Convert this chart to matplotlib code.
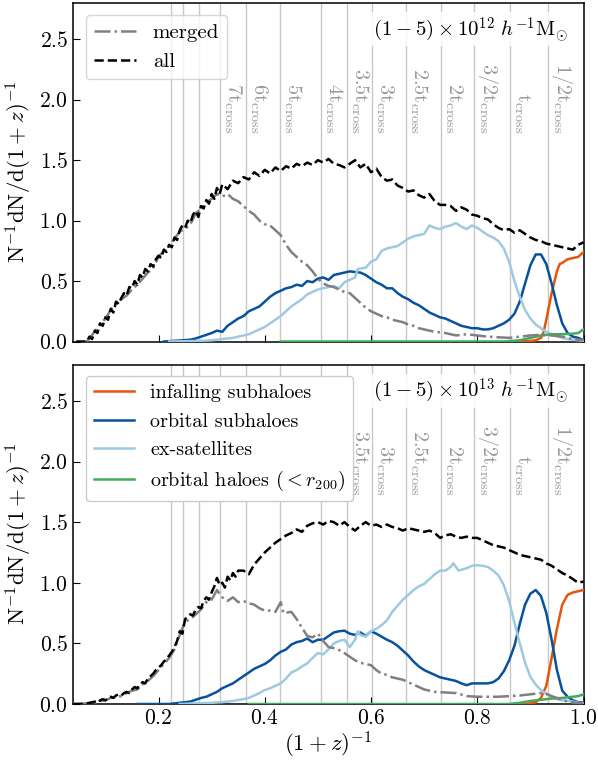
import matplotlib
matplotlib.use("Agg")
import matplotlib.pyplot as plt

plt.rcParams['font.family'] = 'serif'
plt.rcParams['font.serif'] = ['cmr10', 'DejaVu Serif']
plt.rcParams['mathtext.fontset'] = 'cm'
plt.rcParams['axes.formatter.use_mathtext'] = True
plt.rcParams['axes.unicode_minus'] = False

# ---------------- data: top panel (1-5)e12 ----------------
top_all_x = [0.045,0.06,0.065,0.07,0.075,0.08,0.085,0.09,0.095,0.10,0.105,0.11,0.115,0.12,0.125,0.13,0.135,0.14,0.145,0.15,
             0.155,0.16,0.165,0.17,0.175,0.18,0.185,0.19,0.195,0.2,0.205,0.21,0.215,0.22,0.225,0.23,0.235,0.24,0.245,0.25,
             0.255,0.26,0.265,0.27,0.275,0.28,0.285,0.29,0.295,0.30,0.305,0.31,0.315,0.32,0.33,0.34,0.35,0.36,0.37,0.38,
             0.39,0.40,0.41,0.42,0.43,0.44,0.45,0.46,0.47,0.48,0.49,0.50,0.51,0.52,0.53,0.54,0.55,0.56,0.57,0.58,
             0.59,0.60,0.61,0.62,0.63,0.64,0.65,0.66,0.67,0.68,0.69,0.70,0.71,0.72,0.73,0.74,0.75,0.76,0.77,0.78,
             0.79,0.80,0.81,0.82,0.83,0.84,0.85,0.86,0.87,0.88,0.89,0.90,0.91,0.92,0.93,0.94,0.95,0.96,0.97,0.98,0.99,1.0]
top_all_y = [0.0,0.0,0.0,0.04,0.02,0.09,0.07,0.15,0.13,0.20,0.18,0.27,0.24,0.33,0.31,0.36,0.40,0.38,0.45,0.44,
             0.50,0.47,0.55,0.53,0.60,0.58,0.64,0.62,0.68,0.71,0.69,0.76,0.74,0.80,0.78,0.86,0.84,0.92,0.96,0.94,
             1.00,0.98,1.05,1.08,1.03,1.12,1.10,1.17,1.14,1.22,1.18,1.27,1.22,1.30,1.26,1.33,1.31,1.36,1.34,1.40,
             1.37,1.42,1.39,1.44,1.41,1.45,1.43,1.47,1.45,1.48,1.46,1.50,1.48,1.51,1.47,1.46,1.44,1.47,1.50,1.44,
             1.47,1.40,1.43,1.36,1.33,1.34,1.29,1.27,1.24,1.25,1.21,1.19,1.22,1.16,1.13,1.13,1.12,1.08,1.11,1.09,
             1.05,1.04,1.02,1.01,0.97,0.94,0.92,0.93,0.90,0.92,0.89,0.86,0.84,0.83,0.81,0.80,0.79,0.78,0.77,0.76,0.80,0.82]

top_merged_x = [0.065,0.07,0.08,0.09,0.10,0.11,0.12,0.13,0.14,0.15,0.16,0.17,0.18,0.19,0.20,0.21,0.22,0.23,0.24,0.25,
                0.26,0.27,0.28,0.29,0.30,0.31,0.32,0.33,0.34,0.35,0.36,0.37,0.38,0.39,0.40,0.41,0.42,0.43,0.44,0.45,
                0.46,0.47,0.48,0.49,0.50,0.51,0.52,0.53,0.54,0.55,0.56,0.57,0.58,0.59,0.60,0.61,0.62,0.63,0.64,0.65,
                0.66,0.67,0.68,0.69,0.70,0.72,0.74,0.76,0.78,0.80,0.82,0.84,0.86,0.88,0.90,0.92,0.94,0.96,0.98,1.0]
top_merged_y = [0.0,0.03,0.08,0.14,0.19,0.26,0.32,0.35,0.38,0.43,0.47,0.52,0.57,0.61,0.70,0.75,0.79,0.85,0.91,0.93,
                0.97,1.06,1.10,1.15,1.18,1.22,1.20,1.22,1.18,1.16,1.12,1.08,1.05,1.00,0.97,0.96,0.92,0.88,0.80,0.74,
                0.70,0.66,0.63,0.58,0.52,0.48,0.46,0.45,0.43,0.41,0.40,0.36,0.32,0.28,0.25,0.23,0.21,0.20,0.18,0.17,
                0.16,0.14,0.13,0.11,0.10,0.08,0.07,0.05,0.06,0.05,0.04,0.035,0.03,0.04,0.05,0.055,0.05,0.04,0.02,0.01]

top_orb_x = [0.21,0.22,0.24,0.26,0.27,0.28,0.29,0.30,0.31,0.32,0.33,0.34,0.35,0.36,0.37,0.38,0.39,0.40,0.41,0.42,
             0.43,0.44,0.45,0.46,0.47,0.48,0.49,0.50,0.51,0.52,0.53,0.54,0.55,0.56,0.57,0.58,0.59,0.60,0.61,0.62,
             0.63,0.64,0.65,0.66,0.67,0.68,0.69,0.70,0.71,0.72,0.73,0.74,0.75,0.76,0.77,0.78,0.79,0.80,0.81,0.82,
             0.83,0.84,0.85,0.86,0.87,0.88,0.89,0.90,0.91,0.92,0.93,0.94,0.95,0.96,0.97,0.98,0.99,1.0]
top_orb_y = [0.0,0.003,0.008,0.015,0.025,0.04,0.055,0.07,0.09,0.08,0.13,0.16,0.19,0.21,0.25,0.27,0.29,0.33,0.37,0.40,
             0.42,0.44,0.45,0.47,0.46,0.50,0.49,0.52,0.53,0.51,0.55,0.56,0.57,0.58,0.575,0.57,0.55,0.52,0.49,0.47,
             0.44,0.44,0.40,0.37,0.35,0.32,0.30,0.27,0.24,0.22,0.20,0.19,0.17,0.15,0.13,0.12,0.11,0.11,0.10,0.10,
             0.11,0.13,0.15,0.18,0.23,0.33,0.48,0.63,0.72,0.72,0.64,0.48,0.30,0.15,0.07,0.04,0.03,0.01]

top_exs_x = [0.22,0.28,0.30,0.32,0.34,0.35,0.36,0.37,0.38,0.39,0.40,0.41,0.42,0.43,0.44,0.45,0.46,0.47,0.48,0.49,
             0.50,0.51,0.52,0.53,0.54,0.55,0.56,0.57,0.575,0.59,0.60,0.61,0.62,0.63,0.64,0.65,0.66,0.67,0.68,0.69,
             0.70,0.71,0.72,0.73,0.74,0.75,0.76,0.77,0.78,0.79,0.80,0.81,0.82,0.83,0.84,0.85,0.86,0.87,0.88,0.89,
             0.90,0.91,0.92,0.93,0.94,0.95,0.96,0.97,0.98,0.99,1.0]
top_exs_y = [0.0,0.005,0.01,0.02,0.03,0.04,0.05,0.06,0.08,0.10,0.12,0.15,0.18,0.21,0.25,0.29,0.32,0.35,0.39,0.41,
             0.43,0.44,0.45,0.46,0.44,0.49,0.51,0.53,0.60,0.61,0.66,0.68,0.75,0.77,0.78,0.79,0.82,0.85,0.87,0.88,
             0.89,0.96,0.94,0.93,0.95,0.96,0.98,0.95,0.93,0.96,0.94,0.91,0.88,0.86,0.83,0.77,0.66,0.50,0.37,0.26,
             0.19,0.14,0.11,0.08,0.06,0.045,0.03,0.02,0.015,0.01,0.005]

top_inf_x = [0.88,0.90,0.91,0.92,0.925,0.93,0.94,0.95,0.955,0.96,0.97,0.98,0.99,1.0]
top_inf_y = [0.0,0.005,0.01,0.03,0.08,0.18,0.40,0.58,0.64,0.65,0.68,0.69,0.70,0.74]

top_grn_x = [0.43,0.85,0.88,0.90,0.92,0.94,0.96,0.98,0.99,1.0]
top_grn_y = [0.0,0.0,0.01,0.03,0.05,0.06,0.06,0.065,0.07,0.10]

# ---------------- data: bottom panel (1-5)e13 ----------------
bot_all_x = [0.04,0.06,0.07,0.08,0.085,0.09,0.095,0.10,0.105,0.11,0.115,0.12,0.125,0.13,0.135,0.14,0.145,0.15,0.155,0.16,
             0.165,0.17,0.175,0.18,0.185,0.19,0.195,0.20,0.205,0.21,0.215,0.22,0.225,0.23,0.235,0.24,0.245,0.25,0.255,0.26,
             0.265,0.27,0.275,0.28,0.285,0.29,0.295,0.30,0.305,0.31,0.315,0.32,0.325,0.33,0.335,0.34,0.345,0.35,0.36,0.37,
             0.38,0.39,0.40,0.41,0.42,0.43,0.44,0.45,0.46,0.47,0.48,0.49,0.50,0.51,0.52,0.53,0.54,0.55,0.56,0.57,
             0.58,0.59,0.60,0.61,0.62,0.63,0.64,0.65,0.66,0.67,0.68,0.69,0.70,0.71,0.72,0.73,0.74,0.75,0.76,0.77,
             0.78,0.79,0.80,0.81,0.82,0.83,0.84,0.85,0.86,0.87,0.88,0.89,0.90,0.91,0.92,0.93,0.94,0.95,0.96,0.97,
             0.98,0.99,1.0]
bot_all_y = [0.0,0.0,0.01,0.02,0.01,0.03,0.04,0.03,0.05,0.06,0.05,0.07,0.08,0.07,0.09,0.10,0.09,0.12,0.14,0.13,
             0.16,0.18,0.17,0.21,0.23,0.25,0.28,0.30,0.32,0.35,0.37,0.40,0.43,0.47,0.52,0.60,0.58,0.70,0.72,0.74,
             0.73,0.78,0.80,0.79,0.85,0.88,0.86,0.92,0.97,1.04,0.98,1.00,0.96,1.05,1.02,1.08,1.05,1.10,1.10,1.07,
             1.15,1.20,1.25,1.29,1.33,1.36,1.39,1.41,1.44,1.42,1.47,1.49,1.50,1.48,1.51,1.50,1.47,1.50,1.46,1.43,
             1.47,1.50,1.47,1.48,1.46,1.48,1.46,1.45,1.43,1.45,1.44,1.43,1.42,1.43,1.41,1.37,1.39,1.40,1.38,1.37,
             1.38,1.37,1.37,1.35,1.33,1.31,1.30,1.29,1.27,1.25,1.23,1.22,1.21,1.20,1.19,1.16,1.14,1.11,1.08,1.06,
             1.03,1.00,1.01]

bot_merged_x = [0.04,0.07,0.08,0.09,0.10,0.11,0.12,0.13,0.14,0.15,0.16,0.17,0.18,0.19,0.20,0.21,0.22,0.23,0.24,0.25,
                0.26,0.27,0.28,0.29,0.30,0.31,0.32,0.33,0.34,0.35,0.36,0.37,0.38,0.39,0.40,0.41,0.42,0.43,0.435,0.45,
                0.46,0.47,0.48,0.49,0.50,0.51,0.52,0.53,0.54,0.55,0.56,0.57,0.58,0.59,0.60,0.61,0.62,0.63,0.64,0.65,
                0.66,0.67,0.68,0.69,0.70,0.72,0.74,0.76,0.78,0.80,0.82,0.84,0.86,0.88,0.90,0.92,0.93,0.94,0.95,0.96,
                0.97,0.98,1.0]
bot_merged_y = [0.0,0.005,0.015,0.025,0.03,0.05,0.06,0.065,0.09,0.11,0.12,0.16,0.19,0.23,0.28,0.33,0.38,0.45,0.57,0.68,
                0.70,0.74,0.78,0.84,0.86,0.94,0.88,0.85,0.88,0.84,0.85,0.83,0.82,0.79,0.77,0.77,0.76,0.84,0.75,0.76,
                0.70,0.63,0.56,0.55,0.58,0.52,0.47,0.46,0.445,0.42,0.39,0.36,0.34,0.33,0.32,0.28,0.25,0.24,0.22,0.21,
                0.20,0.18,0.16,0.14,0.12,0.10,0.095,0.09,0.065,0.06,0.06,0.06,0.065,0.07,0.08,0.09,0.085,0.065,0.05,0.035,
                0.02,0.012,0.005]

bot_orb_x = [0.16,0.22,0.24,0.25,0.26,0.27,0.28,0.29,0.30,0.31,0.32,0.33,0.34,0.35,0.36,0.37,0.38,0.39,0.40,0.41,
             0.42,0.43,0.44,0.45,0.46,0.47,0.48,0.49,0.50,0.51,0.52,0.53,0.54,0.55,0.56,0.57,0.58,0.59,0.60,0.61,
             0.62,0.63,0.64,0.65,0.66,0.67,0.68,0.69,0.70,0.71,0.72,0.73,0.74,0.75,0.76,0.77,0.78,0.79,0.80,0.81,
             0.82,0.83,0.84,0.85,0.86,0.87,0.88,0.89,0.90,0.91,0.92,0.93,0.94,0.95,0.96,0.97,0.98,0.99,1.0]
bot_orb_y = [0.0,0.0,0.01,0.015,0.02,0.035,0.05,0.06,0.08,0.10,0.13,0.15,0.17,0.20,0.23,0.26,0.29,0.31,0.33,0.36,
             0.40,0.43,0.45,0.49,0.51,0.52,0.54,0.51,0.53,0.53,0.56,0.59,0.60,0.605,0.58,0.57,0.59,0.56,0.60,0.58,
             0.555,0.53,0.51,0.48,0.44,0.40,0.35,0.31,0.28,0.26,0.24,0.22,0.21,0.20,0.19,0.17,0.155,0.17,0.17,0.17,
             0.17,0.18,0.21,0.27,0.36,0.48,0.66,0.82,0.91,0.94,0.89,0.75,0.53,0.28,0.11,0.06,0.03,0.015,0.01]

bot_exs_x = [0.24,0.30,0.32,0.34,0.35,0.36,0.37,0.38,0.39,0.40,0.41,0.42,0.43,0.44,0.45,0.46,0.47,0.48,0.49,0.50,
             0.51,0.52,0.53,0.54,0.55,0.56,0.57,0.575,0.58,0.59,0.60,0.61,0.62,0.63,0.64,0.65,0.66,0.67,0.68,0.69,
             0.70,0.71,0.72,0.73,0.74,0.75,0.755,0.765,0.78,0.79,0.80,0.81,0.82,0.83,0.84,0.85,0.86,0.87,0.88,0.89,
             0.90,0.91,0.92,0.93,0.94,0.95,0.96,0.97,0.98,0.99,1.0]
bot_exs_y = [0.0,0.01,0.015,0.025,0.033,0.04,0.05,0.07,0.09,0.115,0.13,0.15,0.17,0.21,0.26,0.28,0.31,0.335,0.38,0.42,
             0.41,0.45,0.50,0.52,0.53,0.47,0.53,0.60,0.57,0.555,0.60,0.62,0.65,0.69,0.76,0.81,0.86,0.90,0.94,0.97,
             0.99,1.03,1.07,1.10,1.10,1.13,1.16,1.10,1.12,1.14,1.145,1.14,1.13,1.10,1.06,0.98,0.85,0.67,0.50,0.34,
             0.225,0.16,0.115,0.08,0.055,0.04,0.03,0.025,0.02,0.01,0.005]

bot_inf_x = [0.88,0.90,0.91,0.92,0.93,0.94,0.95,0.96,0.97,0.98,0.99,1.0]
bot_inf_y = [0.0,0.005,0.015,0.05,0.15,0.38,0.62,0.82,0.90,0.92,0.93,0.94]

bot_grn_x = [0.37,0.86,0.88,0.90,0.92,0.94,0.96,0.98,0.99,1.0]
bot_grn_y = [0.0,0.0,0.01,0.025,0.035,0.045,0.05,0.06,0.065,0.08]

# crossing-time markers
tcross_x = [0.223, 0.247, 0.276, 0.315, 0.365, 0.428, 0.505, 0.555, 0.602, 0.665, 0.731, 0.793, 0.861, 0.933]
tcross_labels = ['', '', '', '7', '6', '5', '4', '3.5', '3', '2.5', '2', '3/2', '1', '1/2']
# labels visible in the lower panel (the others sit behind its legend)
tcross_labels_bottom = ['', '', '', '', '', '', '', '3.5', '3', '2.5', '2', '3/2', '1', '1/2']

legend_labels = ['merged', 'all', 'infalling subhaloes', 'orbital subhaloes', 'ex-satellites',
                 r'orbital haloes ($<r_{200}$)']
mass_labels = [r'$(1-5)\times10^{12}\ h^{-1}{\rm M}_{\odot}$', r'$(1-5)\times10^{13}\ h^{-1}{\rm M}_{\odot}$']

c_inf = '#e6550d'
c_orb = '#08519c'
c_exs = '#9ecae1'
c_grn = '#41ab5d'

fig = plt.figure(figsize=(5.98, 7.62), dpi=100)
W = 598.0
H = 762.0
ax1 = fig.add_axes([73 / W, 1 - 341.5 / H, 510.5 / W, 338.5 / H])
ax2 = fig.add_axes([73 / W, 1 - 704 / H, 510.5 / W, 339.5 / H])

panels = [
    (ax1, top_all_x, top_all_y, top_merged_x, top_merged_y, top_orb_x, top_orb_y, top_exs_x, top_exs_y,
     top_inf_x, top_inf_y, top_grn_x, top_grn_y, mass_labels[0], tcross_labels),
    (ax2, bot_all_x, bot_all_y, bot_merged_x, bot_merged_y, bot_orb_x, bot_orb_y, bot_exs_x, bot_exs_y,
     bot_inf_x, bot_inf_y, bot_grn_x, bot_grn_y, mass_labels[1], tcross_labels_bottom),
]

for i, (ax, ax_, ay_, mx, my, ox, oy, ex, ey, ix, iy, gx, gy, mlab, tlabs) in enumerate(panels):
    for xv, lab in zip(tcross_x, tlabs):
        ax.axvline(xv, color='#c8c8c8', lw=1.0, zorder=0)
        if lab:
            txt = r't$_{\rm cross}$' if lab == '1' else (lab + r't$_{\rm cross}$')
            ax.text(xv + 0.004, 1.72, txt, rotation=-90, ha='left', va='bottom',
                    color='#999999', fontsize=14.5, zorder=1)
    l_inf, = ax.plot(ix, iy, color=c_inf, lw=1.8, label=legend_labels[2], zorder=3)
    l_orb, = ax.plot(ox, oy, color=c_orb, lw=1.8, label=legend_labels[3], zorder=3)
    l_exs, = ax.plot(ex, ey, color=c_exs, lw=1.8, label=legend_labels[4], zorder=3)
    l_grn, = ax.plot(gx, gy, color=c_grn, lw=1.8, label=legend_labels[5], zorder=3)
    l_mer, = ax.plot(mx, my, color='gray', lw=1.8, ls='-.', label=legend_labels[0], zorder=4)
    l_all, = ax.plot(ax_, ay_, color='black', lw=1.8, ls='--', label=legend_labels[1], zorder=5)

    ax.set_xlim(0.039, 1.0)
    ax.set_ylim(0, 2.8)
    ax.set_yticks([0.0, 0.5, 1.0, 1.5, 2.0, 2.5])
    ax.set_xticks([0.2, 0.4, 0.6, 0.8, 1.0])
    ax.tick_params(direction='in', length=5, labelsize=15.5, top=False, right=False)
    ax.set_ylabel(r'${\rm N^{-1}dN/d}(1+z)^{-1}$', fontsize=16.5, labelpad=4)
    for s in ax.spines.values():
        s.set_linewidth(1.1)
    ax.text(0.97, 0.965, mlab, transform=ax.transAxes, ha='right', va='top', fontsize=15,
            zorder=6, bbox=dict(facecolor='white', edgecolor='none', alpha=0.85, pad=2))
    if i == 0:
        ax.set_xticklabels([])
        ax.legend(handles=[l_mer, l_all], loc='upper left', fontsize=15, bbox_to_anchor=(0.005, 0.995),
                  handlelength=2.0).set_zorder(10)
    else:
        ax.set_xlabel(r'$(1+z)^{-1}$', fontsize=16.5, labelpad=1)
        ax.legend(handles=[l_inf, l_orb, l_exs, l_grn], loc='upper left', fontsize=14.5,
                  bbox_to_anchor=(0.005, 0.995), handlelength=2.0, framealpha=1.0).set_zorder(10)

fig.savefig('out.png', dpi=100)
